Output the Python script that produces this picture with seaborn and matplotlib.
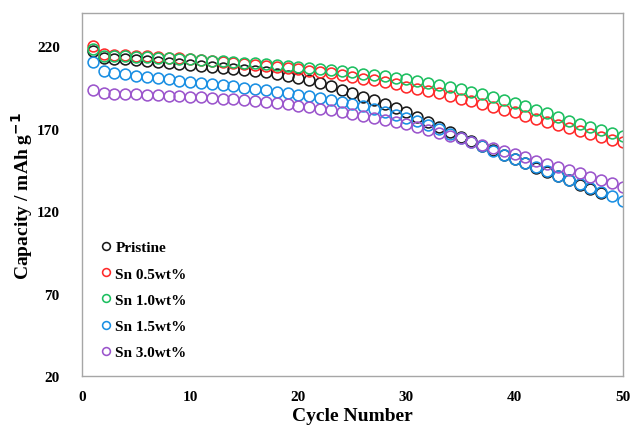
import matplotlib
matplotlib.use("Agg")
import matplotlib.pyplot as plt
import seaborn as sns
import pandas as pd

sns.set_style("white")
plt.rcParams['font.family'] = ['Liberation Serif', 'DejaVu Serif']
plt.rcParams['font.weight'] = 'bold'
plt.rcParams['text.color'] = 'black'
plt.rcParams['axes.labelcolor'] = 'black'
plt.rcParams['xtick.labelcolor'] = 'black'
plt.rcParams['ytick.labelcolor'] = 'black'

series_names = ["Pristine", "Sn 0.5wt%", "Sn 1.0wt%", "Sn 1.5wt%", "Sn 3.0wt%"]
colors = ["#1a1a1a", "#ff2a2a", "#1dbf60", "#1a8fe3", "#9b55cc"]

pristine = [217.0, 212.5, 212.2, 211.9, 211.5, 211.0, 210.5, 210.0, 209.4, 208.8,
            208.2, 207.6, 207.0, 206.3, 205.6, 204.8, 204.0, 203.1, 202.0, 200.8,
            199.2, 197.5, 195.6, 193.6, 191.5, 189.4, 187.2, 184.9, 182.5, 180.0,
            177.0, 174.0, 171.0, 167.8, 165.0, 162.3, 159.6, 156.9, 154.2, 151.5,
            149.0, 146.4, 143.8, 141.2, 138.6, 136.0, 133.5, 131.0]
sn05 = [220.0, 215.0, 214.8, 214.5, 214.2, 213.8, 213.4, 213.0, 212.5, 212.0,
        211.5, 211.0, 210.5, 210.0, 209.4, 208.8, 208.2, 207.5, 206.8, 206.0,
        205.2, 204.3, 203.4, 202.4, 201.4, 200.3, 199.2, 198.0, 196.8, 195.5,
        194.2, 192.8, 191.3, 189.8, 188.2, 186.6, 184.9, 183.2, 181.5, 179.8,
        177.9, 176.0, 174.1, 172.2, 170.3, 168.5, 166.7, 165.0, 163.3, 161.6]
sn10 = [218.0, 214.2, 214.0, 213.8, 213.6, 213.3, 213.0, 212.7, 212.4, 212.0,
        211.6, 211.2, 210.8, 210.4, 210.0, 209.5, 209.0, 208.5, 208.0, 207.4,
        206.8, 206.2, 205.5, 204.8, 204.1, 203.3, 202.5, 201.7, 200.8, 199.9,
        198.9, 197.8, 196.6, 195.3, 193.9, 192.4, 190.8, 189.1, 187.3, 185.5,
        183.5, 181.4, 179.2, 177.0, 174.8, 172.9, 171.0, 169.2, 167.4, 165.6]
sn15 = [210.5, 204.8, 203.8, 202.9, 202.1, 201.3, 200.5, 199.8, 199.1, 198.4,
        197.7, 197.0, 196.3, 195.6, 194.8, 194.0, 193.2, 192.4, 191.5, 190.6,
        189.6, 188.6, 187.5, 186.3, 185.0, 183.5, 181.9, 180.2, 178.5, 176.7,
        174.4, 172.0, 169.5, 167.0, 164.5, 161.9, 159.3, 156.7, 154.1, 151.5,
        149.0, 146.5, 144.0, 141.5, 139.0, 136.5, 134.0, 131.5, 128.9, 126.3]
sn30 = [193.5, 191.5, 191.2, 191.0, 190.8, 190.5, 190.3, 190.0, 189.7, 189.4,
        189.0, 188.6, 188.2, 187.7, 187.2, 186.6, 186.0, 185.3, 184.6, 183.8,
        182.9, 182.0, 181.0, 180.0, 178.9, 177.8, 176.6, 175.3, 174.0, 172.5,
        171.0, 169.3, 167.6, 165.8, 164.0, 162.0, 160.1, 158.2, 156.3, 154.4,
        152.5, 150.6, 148.7, 146.8, 144.8, 142.8, 140.8, 138.8, 136.8, 134.8]

all_series = [pristine, sn05, sn10, sn15, sn30]

x_ticks = [0, 10, 20, 30, 40, 50]
y_ticks = [20, 70, 120, 170, 220]

fig = plt.figure(figsize=(6.31, 4.27), dpi=100)
ax = fig.add_axes([0.130, 0.117, 0.857, 0.850])

for name, vals, c in zip(series_names, all_series, colors):
    df = pd.DataFrame({"cycle": list(range(1, len(vals) + 1)), "cap": vals})
    sns.lineplot(data=df, x="cycle", y="cap", ax=ax, color=c, linestyle="",
                 marker="o", markersize=7.8, markerfacecolor="none",
                 markeredgecolor=c, markeredgewidth=1.15, label=name)

ax.set_xlim(0, 50)
ax.set_ylim(20, 240)
ax.set_xticks(x_ticks)
ax.set_yticks(y_ticks)
ax.set_xticklabels([str(t) for t in x_ticks], fontsize=11, fontweight='bold', color='black')
ax.set_yticklabels([str(t) for t in y_ticks], fontsize=11, fontweight='bold', color='black')
ax.tick_params(axis='both', direction='in', length=4, width=1, color='#a6a6a6')
ax.tick_params(axis='x', pad=10)
ax.tick_params(axis='y', pad=16)

for s in ax.spines.values():
    s.set_visible(True)
    s.set_color('#a6a6a6')
    s.set_linewidth(1.0)

ax.set_xlabel("Cycle Number", fontsize=14, fontweight='bold', labelpad=3, color='black')
ax.set_ylabel("Capacity / mAh g$^{\\mathbf{-1}}$", fontsize=14, fontweight='bold',
              labelpad=1, color='black')

leg = ax.legend(loc='upper left', bbox_to_anchor=(0.025, 0.39), frameon=False,
                prop={'size': 11, 'weight': 'bold'}, markerscale=0.72,
                handlelength=0.6, handletextpad=0.3, labelspacing=0.82,
                borderaxespad=0)
for t in leg.get_texts():
    t.set_color('black')

fig.savefig("out.png", dpi=100)
